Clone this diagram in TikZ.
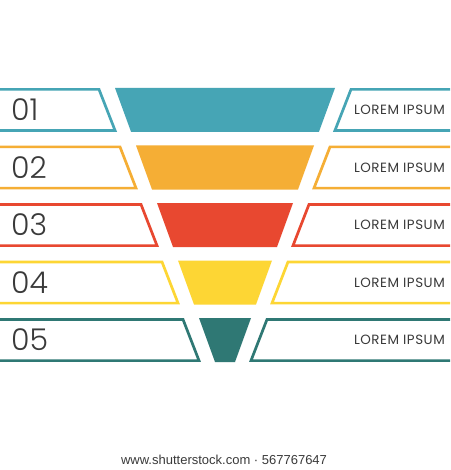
\documentclass[tikz,border=0pt]{standalone}
\usepackage{fontspec}
\setmainfont{Poppins}
\newfontfamily\thinfont{Poppins Light}
\newfontfamily\markfont{Liberation Sans}
\definecolor{segA}{RGB}{70,165,181}
\definecolor{segB}{RGB}{245,174,53}
\definecolor{segC}{RGB}{232,72,48}
\definecolor{segD}{RGB}{253,214,52}
\definecolor{segE}{RGB}{47,120,116}
\definecolor{inkgray}{RGB}{58,58,58}

\begin{document}
\begin{tikzpicture}[x=1pt,y=-1pt,
        outlinebox/.style={draw,line width=2.7pt,line join=miter},
        numlabel/.style={anchor=west,inner sep=0pt,text=inkgray,font=\thinfont\fontsize{30}{30}\selectfont},
        loremlabel/.style={anchor=east,inner sep=0pt,text=inkgray,font=\fontsize{13.4}{14}\selectfont\addfontfeatures{LetterSpace=4}}]
        \useasboundingbox (0,0) rectangle (450,470);
        \fill[white] (0,0) rectangle (450,470);
        \begin{scope}
            \clip (0,0) rectangle (450,470);

            \fill[segA] (115,88) -- (335,88) -- (318.9,132) -- (131.1,132) -- cycle;
            \fill[segB] (136,145.5) -- (314,145.5) -- (298,189.5) -- (152,189.5) -- cycle;
            \fill[segC] (157,203) -- (293,203) -- (277,247) -- (173,247) -- cycle;
            \fill[segD] (178,260.5) -- (272,260.5) -- (256,304.5) -- (194,304.5) -- cycle;
            \fill[segE] (199,318) -- (251,318) -- (235,362) -- (215,362) -- cycle;

            \draw[outlinebox,segA] (-5,89.4) -- (99,89.4) -- (115.1,130.6) -- (-5,130.6) -- cycle;
            \draw[outlinebox,segB] (-5,146.9) -- (120,146.9) -- (136,188.1) -- (-5,188.1) -- cycle;
            \draw[outlinebox,segC] (-5,204.4) -- (141,204.4) -- (157,245.6) -- (-5,245.6) -- cycle;
            \draw[outlinebox,segD] (-5,261.9) -- (162,261.9) -- (178,303.1) -- (-5,303.1) -- cycle;
            \draw[outlinebox,segE] (-5,319.4) -- (183,319.4) -- (199,360.6) -- (-5,360.6) -- cycle;

            \draw[outlinebox,segA] (351,89.4) -- (455,89.4) -- (455,130.6) -- (334.9,130.6) -- cycle;
            \draw[outlinebox,segB] (330,146.9) -- (455,146.9) -- (455,188.1) -- (314,188.1) -- cycle;
            \draw[outlinebox,segC] (309,204.4) -- (455,204.4) -- (455,245.6) -- (293,245.6) -- cycle;
            \draw[outlinebox,segD] (288,261.9) -- (455,261.9) -- (455,303.1) -- (272,303.1) -- cycle;
            \draw[outlinebox,segE] (267,319.4) -- (455,319.4) -- (455,360.6) -- (251,360.6) -- cycle;
        \end{scope}

        \node[numlabel] (num1) at (11,110) {01};
        \node[numlabel] (num2) at (11,167.5) {02};
        \node[numlabel] (num3) at (11,225) {03};
        \node[numlabel] (num4) at (11,282.5) {04};
        \node[numlabel] (num5) at (11,340) {05};

        \node[loremlabel] (lorem1) at (445,110) {LOREM IPSUM};
        \node[loremlabel] (lorem2) at (445,167.5) {LOREM IPSUM};
        \node[loremlabel] (lorem3) at (445,225) {LOREM IPSUM};
        \node[loremlabel] (lorem4) at (445,282.5) {LOREM IPSUM};
        \node[loremlabel] (lorem5) at (445,340) {LOREM IPSUM};

        \node[inner sep=0pt,text=inkgray,font=\markfont\fontsize{13}{13}\selectfont] (stockmark) at (224,460) {www.shutterstock.com · 567767647};
    \end{tikzpicture}
\end{document}
